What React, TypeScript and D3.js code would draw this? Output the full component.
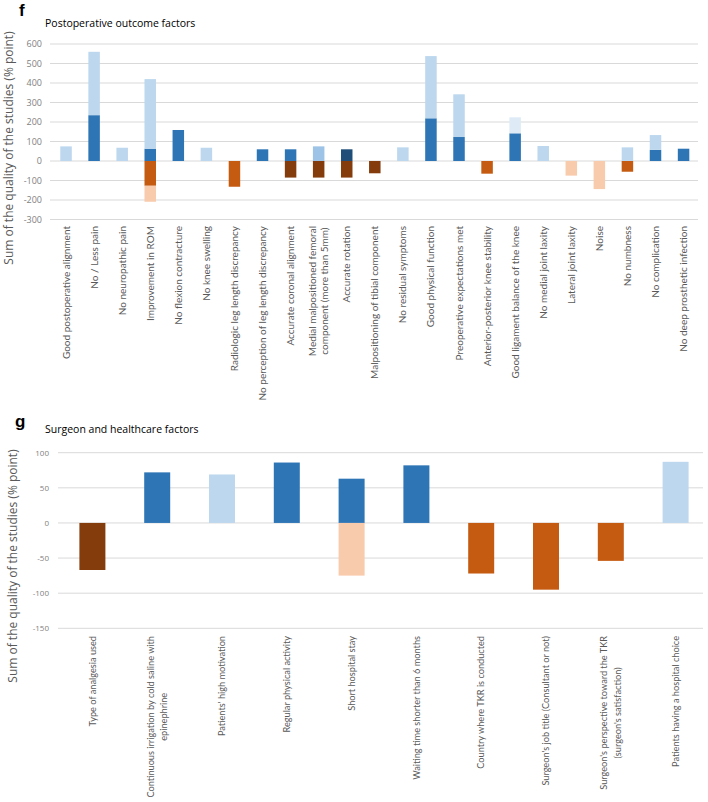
import React, { useEffect, useRef } from "react";
import * as d3 from "d3";

// ---------- Panel f: Postoperative outcome factors ----------
const topCategories = [
  "Good postoperative alignment",
  "No / Less pain",
  "No neuropathic pain",
  "Improvement in ROM",
  "No flexion contracture",
  "No knee swelling",
  "Radiologic leg length discrepancy",
  "No perception of leg length discrepancy",
  "Accurate coronal alignment",
  "Medial malpositioned femoral\ncomponent (more than 5mm)",
  "Accurate rotation",
  "Malpositioning of tibial component",
  "No residual symptoms",
  "Good physical function",
  "Preoperative expectations met",
  "Anterior-posterior knee stability",
  "Good ligament balance of the knee",
  "No medial joint laxity",
  "Lateral joint laxity",
  "Noise",
  "No numbness",
  "No complication",
  "No deep prosthetic infection",
];
const topNavy = [0, 0, 0, 0, 0, 0, 0, 0, 0, 0, 60, 0, 0, 0, 0, 0, 0, 0, 0, 0, 0, 0, 0];
const topDarkBlue = [0, 235, 0, 63, 159, 0, 0, 60, 60, 0, 0, 0, 0, 219, 123, 0, 142, 0, 0, 0, 0, 57, 63];
const topMedBlue = [0, 0, 0, 0, 0, 0, 0, 0, 0, 75, 0, 0, 0, 0, 0, 0, 0, 0, 0, 0, 0, 0, 0];
const topLightBlue = [75, 325, 68, 357, 0, 68, 0, 0, 0, 0, 0, 0, 70, 319, 219, 0, 0, 77, 0, 0, 70, 76, 0];
const topPaleBlue = [0, 0, 0, 0, 0, 0, 0, 0, 0, 0, 0, 0, 0, 0, 0, 0, 82, 0, 0, 0, 0, 0, 0];
const topBrown = [0, 0, 0, 0, 0, 0, 0, 0, -85, -85, -85, -63, 0, 0, 0, 0, 0, 0, 0, 0, 0, 0, 0];
const topOrange = [0, 0, 0, -127, 0, 0, -132, 0, 0, 0, 0, 0, 0, 0, 0, -65, 0, 0, 0, 0, -55, 0, 0];
const topLightOrange = [0, 0, 0, -82, 0, 0, 0, 0, 0, 0, 0, 0, 0, 0, 0, 0, 0, 0, -75, -144, 0, 0, 0];
const topTicks = [600, 500, 400, 300, 200, 100, 0, -100, -200, -300];

// ---------- Panel g: Surgeon and healthcare factors ----------
const bottomCategories = [
  "Type of analgesia used",
  "Continuous irrigation by cold saline with\nepinephrine",
  "Patients' high motivation",
  "Regular physical activity",
  "Short hospital stay",
  "Waiting time shorter than 6 months",
  "Country where TKR is conducted",
  "Surgeon's job title (Consultant or not)",
  "Surgeon's perspective toward the TKR\n(surgeon's satisfaction)",
  "Patients having a hospital choice",
];
const bottomDarkBlue = [0, 72, 0, 86, 63, 82, 0, 0, 0, 0];
const bottomLightBlue = [0, 0, 69, 0, 0, 0, 0, 0, 0, 87];
const bottomBrown = [-67, 0, 0, 0, 0, 0, 0, 0, 0, 0];
const bottomOrange = [0, 0, 0, 0, 0, 0, -72, -95, -54, 0];
const bottomLightOrange = [0, 0, 0, 0, -75, 0, 0, 0, 0, 0];
const bottomTicks = [100, 50, 0, -50, -100, -150];

const COLORS: Record<string, string> = {
  navy: "#1F4E79",
  dark: "#2E75B6",
  med: "#9DC3E6",
  light: "#BDD7EE",
  pale: "#DEEBF7",
  brown: "#843C0C",
  orange: "#C55A11",
  lightOrange: "#F8CBAD",
};

type Panel = {
  cats: string[];
  series: { key: string; values: number[] }[];
  ticks: number[];
  yDomain: [number, number];
  yRange: [number, number];
  xRange: [number, number];
  gridX: [number, number];
  barW: number;
  tickX: number;
  tickFs: number;
  labelTop: number;
  labelFs: number;
  lineGap: number;
  letter: string;
  letterXY: [number, number];
  title: string;
  titleXY: [number, number];
  yTitleXY: [number, number];
};

function drawPanel(svg: d3.Selection<SVGSVGElement, unknown, null, undefined>, p: Panel) {
  const g = svg.append("g");
  const y = d3.scaleLinear().domain(p.yDomain).range(p.yRange);
  const x = d3.scalePoint<string>().domain(p.cats).range(p.xRange).padding(0.5);

  g.selectAll("line.grid")
    .data(p.ticks)
    .enter()
    .append("line")
    .attr("x1", p.gridX[0])
    .attr("x2", p.gridX[1])
    .attr("y1", (d) => y(d))
    .attr("y2", (d) => y(d))
    .attr("stroke", "#d9d9d9")
    .attr("stroke-width", 1);

  g.selectAll("text.tick")
    .data(p.ticks)
    .enter()
    .append("text")
    .attr("x", p.tickX)
    .attr("y", (d) => y(d))
    .attr("dy", "0.35em")
    .attr("text-anchor", "end")
    .attr("font-family", "'Open Sans', sans-serif")
    .attr("font-size", p.tickFs)
    .attr("fill", "#7f7f7f")
    .text((d) => String(d));

  const keys = p.series.map((s) => s.key);
  const table = p.cats.map((c, i) => {
    const row: Record<string, any> = { cat: c };
    p.series.forEach((s) => (row[s.key] = s.values[i]));
    return row;
  });
  const stack = d3.stack<Record<string, any>>().keys(keys).offset(d3.stackOffsetDiverging);
  const layers = stack(table);
  layers.forEach((layer) => {
    g.append("g")
      .attr("fill", COLORS[layer.key])
      .selectAll("rect")
      .data(layer.filter((d) => d[1] - d[0] !== 0))
      .enter()
      .append("rect")
      .attr("x", (d) => (x(d.data.cat) as number) - p.barW / 2)
      .attr("width", p.barW)
      .attr("y", (d) => y(Math.max(d[0], d[1])))
      .attr("height", (d) => Math.abs(y(d[0]) - y(d[1])));
  });

  p.cats.forEach((c) => {
    const cx = x(c) as number;
    const lines = c.split("\n");
    const lg = g.append("g").attr("transform", `translate(${cx},${p.labelTop}) rotate(-90)`);
    const t1 = lg
      .append("text")
      .attr("text-anchor", "end")
      .attr("x", 0)
      .attr("y", lines.length > 1 ? -p.lineGap / 2 : 0)
      .attr("dy", "0.35em")
      .attr("font-family", "Lato, sans-serif")
      .attr("font-size", p.labelFs)
      .attr("fill", "#595959")
      .text(lines[0]);
    if (lines.length > 1) {
      const L1 = (t1.node() as SVGTextElement).getComputedTextLength();
      lg.append("text")
        .attr("text-anchor", "middle")
        .attr("x", -L1 / 2)
        .attr("y", p.lineGap / 2)
        .attr("dy", "0.35em")
        .attr("font-family", "Lato, sans-serif")
        .attr("font-size", p.labelFs)
        .attr("fill", "#595959")
        .text(lines[1]);
    }
  });

  g.append("text")
    .attr("x", p.letterXY[0])
    .attr("y", p.letterXY[1])
    .attr("font-family", "'Liberation Sans', Arial, sans-serif")
    .attr("font-weight", "bold")
    .attr("font-size", 17)
    .attr("fill", "#000")
    .text(p.letter);
  g.append("text")
    .attr("x", p.titleXY[0])
    .attr("y", p.titleXY[1])
    .attr("font-family", "'Open Sans', sans-serif")
    .attr("font-size", 10.5)
    .attr("fill", "#000")
    .text(p.title);

  g.append("text")
    .attr("transform", `translate(${p.yTitleXY[0]},${p.yTitleXY[1]}) rotate(-90)`)
    .attr("text-anchor", "middle")
    .attr("font-family", "'Open Sans', sans-serif")
    .attr("font-size", 12)
    .attr("fill", "#595959")
    .text("Sum of the quality of the studies (% point)");
}

export default function App() {
  const ref = useRef<SVGSVGElement | null>(null);
  useEffect(() => {
    const svg = d3.select(ref.current as SVGSVGElement);
    svg.selectAll("*").remove();
    svg.append("rect").attr("width", 708).attr("height", 802).attr("fill", "#fff");

    drawPanel(svg, {
      cats: topCategories,
      series: [
        { key: "navy", values: topNavy },
        { key: "dark", values: topDarkBlue },
        { key: "med", values: topMedBlue },
        { key: "light", values: topLightBlue },
        { key: "pale", values: topPaleBlue },
        { key: "brown", values: topBrown },
        { key: "orange", values: topOrange },
        { key: "lightOrange", values: topLightOrange },
      ],
      ticks: topTicks,
      yDomain: [-300, 600],
      yRange: [219.5, 44],
      xRange: [52, 697.6],
      gridX: [50, 698],
      barW: 11.5,
      tickX: 42,
      tickFs: 9,
      labelTop: 226,
      labelFs: 10,
      lineGap: 11.7,
      letter: "f",
      letterXY: [19, 16],
      title: "Postoperative outcome factors",
      titleXY: [45, 27],
      yTitleXY: [13, 148],
    });

    drawPanel(svg, {
      cats: bottomCategories,
      series: [
        { key: "dark", values: bottomDarkBlue },
        { key: "light", values: bottomLightBlue },
        { key: "brown", values: bottomBrown },
        { key: "orange", values: bottomOrange },
        { key: "lightOrange", values: bottomLightOrange },
      ],
      ticks: bottomTicks,
      yDomain: [-150, 100],
      yRange: [628.3, 452.7],
      xRange: [60, 708],
      gridX: [58, 703],
      barW: 26,
      tickX: 49,
      tickFs: 8,
      labelTop: 636,
      labelFs: 9.2,
      lineGap: 13.3,
      letter: "g",
      letterXY: [15, 427],
      title: "Surgeon and healthcare factors",
      titleXY: [45, 433],
      yTitleXY: [17, 566],
    });
  }, []);
  return (
    <svg
      ref={ref}
      width={708}
      height={802}
      style={{ position: "absolute", left: 0, top: 0, display: "block" }}
    />
  );
}
